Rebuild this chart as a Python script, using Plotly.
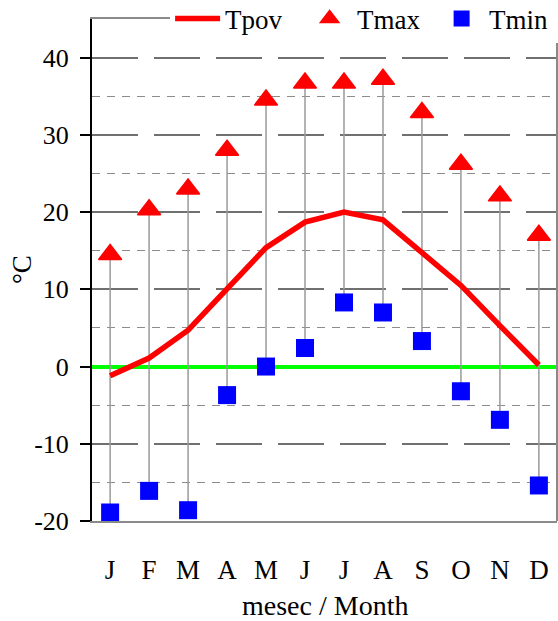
import plotly.graph_objects as go

months = [1, 2, 3, 4, 5, 6, 7, 8, 9, 10, 11, 12]
month_labels = ["J", "F", "M", "A", "M", "J", "J", "A", "S", "O", "N", "D"]
t_pov = [-1.2, 1.1, 4.7, 10.1, 15.4, 18.7, 20.0, 19.0, 14.8, 10.5, 5.3, 0.2]
t_max = [14.5, 20.3, 23.0, 28.0, 34.5, 36.7, 36.7, 37.2, 32.9, 26.2, 22.1, 17.0]
t_min = [-18.9, -16.1, -18.6, -3.7, 0.0, 2.4, 8.3, 7.0, 3.3, -3.2, -6.9, -15.4]
y_tick_vals = [-20, -10, 0, 10, 20, 30, 40]
y_tick_text = ["-20", "-10", "0", "10", "20", "30", "40"]

FONT = "Liberation Serif, Times New Roman, serif"

# stems between Tmax and Tmin
stem_x, stem_y = [], []
for m, hi, lo in zip(months, t_max, t_min):
    stem_x += [m, m, None]
    stem_y += [hi, lo, None]

fig = go.Figure()
fig.add_trace(go.Scatter(x=stem_x, y=stem_y, mode="lines",
                         line=dict(color="#9a9a9a", width=1.5),
                         showlegend=False, hoverinfo="skip"))
fig.add_trace(go.Scatter(x=months, y=t_pov, mode="lines", name="Tpov",
                         line=dict(color="#ff0000", width=5.5)))
fig.add_trace(go.Scatter(x=months, y=t_max, mode="markers", name="Tmax",
                         marker=dict(symbol="triangle-up", size=20, color="#ff0000",
                                     line=dict(color="#ff0000", width=1.5))))
fig.add_trace(go.Scatter(x=months, y=t_min, mode="markers", name="Tmin",
                         marker=dict(symbol="square", size=18, color="#0000ff",
                                     line=dict(width=0))))

fig.update_layout(
    width=558, height=621,
    margin=dict(l=92, r=1, t=19, b=100, pad=0, autoexpand=False),
    paper_bgcolor="white", plot_bgcolor="white",
    font=dict(family=FONT, color="black", size=26),
    showlegend=True,
    legend=dict(orientation="h", x=0.168, y=1.049, xanchor="left", yanchor="top",
                bgcolor="white", font=dict(family=FONT, size=27),
                itemwidth=45, entrywidth=72, traceorder="normal"),
    xaxis=dict(range=[0.535, 12.465], tickmode="array", tickvals=months,
               ticktext=month_labels, showgrid=False, zeroline=False,
               showline=True, mirror=True, linecolor="#8a8a8a", linewidth=2,
               ticks="", ticklabelstandoff=24, automargin=False,
               tickfont=dict(family=FONT, size=27)),
    yaxis=dict(range=[-20, 45], tickmode="array", tickvals=y_tick_vals,
               ticktext=y_tick_text, showgrid=True,
               gridcolor="#707070", gridwidth=1.5, griddash="46px,16px",
               zeroline=True, zerolinecolor="#00ff00", zerolinewidth=4,
               showline=True, linecolor="black", linewidth=2,
               ticks="outside", ticklen=10, tickcolor="black", tickwidth=1.5,
               ticklabelstandoff=6, automargin=False,
               tickfont=dict(family=FONT, size=26),
               minor=dict(tickmode="linear", tick0=-15, dtick=10, showgrid=True,
                          gridcolor="#8c8c8c", gridwidth=1.2, griddash="8px,7px",
                          ticks="")),
    shapes=[dict(type="line", xref="paper", yref="paper", x0=1, x1=1, y0=0, y1=1,
                 line=dict(color="#8a8a8a", width=2))],
    annotations=[
        dict(text="mesec / Month", xref="paper", yref="paper", x=0.5, y=-0.168,
             xanchor="center", yanchor="middle", showarrow=False,
             font=dict(family=FONT, size=28)),
        dict(text="°C", xref="paper", yref="paper", x=-0.1505, y=0.5,
             xanchor="center", yanchor="middle", showarrow=False, textangle=-90,
             font=dict(family=FONT, size=27)),
    ],
)

# remove the page's default 8px body margin so the 558x621 figure fills the window
fig.write_html("out.html",
               config={"displayModeBar": False},
               post_script="document.body.style.margin='0px';document.body.style.overflow='hidden';")
